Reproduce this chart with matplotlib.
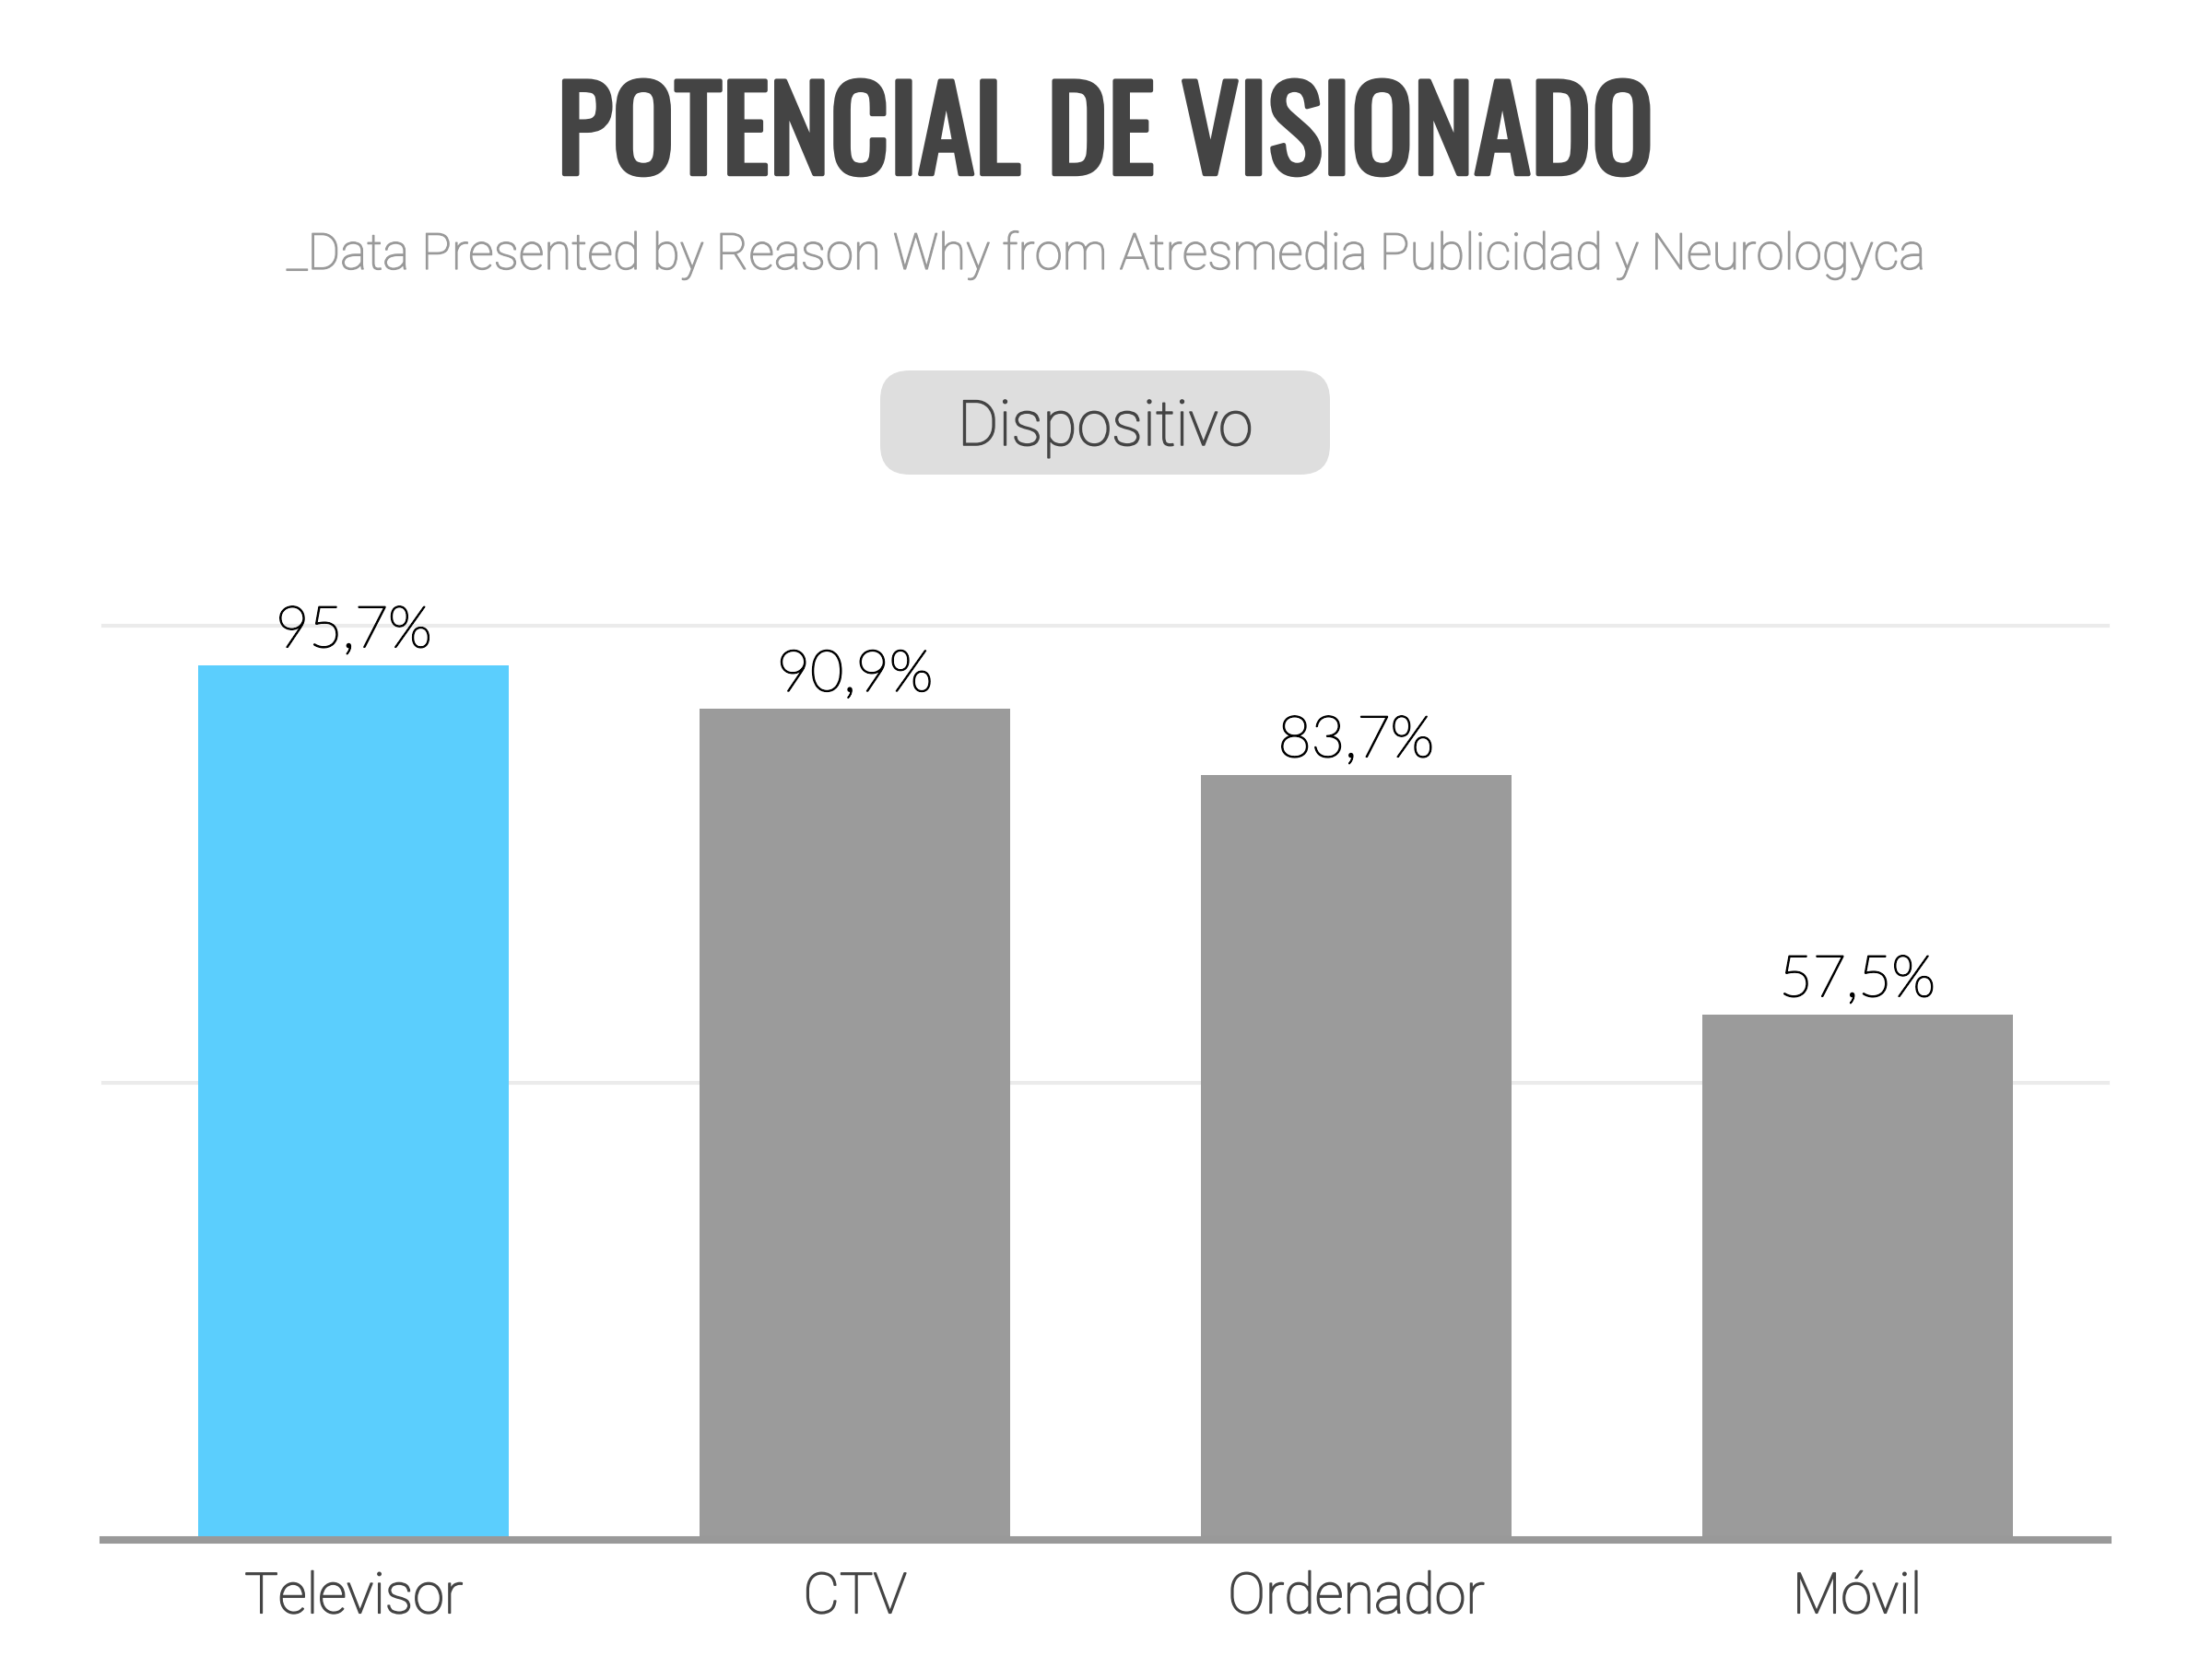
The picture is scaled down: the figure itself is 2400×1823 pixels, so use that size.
import matplotlib
matplotlib.use("Agg")
import matplotlib.pyplot as plt
from matplotlib import font_manager as fm
from matplotlib.patches import FancyBboxPatch
from matplotlib.transforms import IdentityTransform
import matplotlib.patheffects as pe

# ---- data ----
categories = ["Televisor", "CTV", "Ordenador", "Móvil"]
values = [95.7, 90.9, 83.7, 57.5]
value_labels = ["95,7%", "90,9%", "83,7%", "57,5%"]
bar_colors = ["#5BCEFD", "#9B9B9B", "#9B9B9B", "#9B9B9B"]
grid_values = [50, 100]
title = "POTENCIAL DE VISIONADO"
subtitle = "_Data Presented by Reason Why from Atresmedia Publicidad y Neurologyca"
box_label = "Dispositivo"

names = {f.name for f in fm.fontManager.ttflist}
def pick(*c):
    for n in c:
        if n in names:
            return n
    return "DejaVu Sans"

title_font = pick("Oswald", "Liberation Sans Narrow", "DejaVu Sans")
lato = pick("Lato", "Open Sans", "DejaVu Sans")
roboto = pick("Roboto", "Open Sans", "DejaVu Sans")

def thicken(txt, color, lw):
    txt.set_path_effects([pe.withStroke(linewidth=lw, foreground=color)])

W, H = 2400, 1824
fig = plt.figure(figsize=(W / 100, H / 100), dpi=100)
fig.patch.set_facecolor("white")

# axes: x 112..2287 px, y zero at 1672 px, 100 at 680 px (from top)
ax = fig.add_axes([112 / W, 1 - 1672 / H, (2287 - 112) / W, (1672 - 680) / H])
x = list(range(len(categories)))
ax.bar(x, values, width=0.62, color=bar_colors, zorder=2)
ax.set_xlim(-0.5, len(categories) - 0.5)
ax.set_ylim(0, 100)
for g in grid_values:
    ax.axhline(g, color="#EBEBEB", lw=2.9, zorder=1, clip_on=False)
ax.axhline(0, color="#999999", lw=5.8, zorder=3, clip_on=False)
for s in ax.spines.values():
    s.set_visible(False)
ax.set_yticks([])
ax.set_xticks(x)
ax.set_xticklabels(categories, fontsize=44, color="#444444",
                   family=[roboto, "DejaVu Sans"], fontweight="light")
for lbl in ax.get_xticklabels():
    thicken(lbl, "#444444", 1.1)
ax.tick_params(axis="x", length=0, pad=24)
for xi, v, lab in zip(x, values, value_labels):
    a = ax.annotate(lab, (xi, v), xytext=(0, 14), textcoords="offset points",
                    ha="center", va="baseline", fontsize=45, color="#000000",
                    family=[lato, "DejaVu Sans"], fontweight="light",
                    annotation_clip=False)
    thicken(a, "#000000", 1.2)

# title
t = fig.text(1199 / W, 1 - 190 / H, title, ha="center", va="baseline",
             fontsize=90, color="#444444", fontweight="bold",
             family=[title_font, "DejaVu Sans"])
thicken(t, "#444444", 3.2)
st = fig.text(1199 / W, 1 - 293 / H, subtitle, ha="center", va="baseline",
              fontsize=39, color="#999999", fontweight="light",
              family=[roboto, "DejaVu Sans"])
thicken(st, "#999999", 0.9)

# rounded box
box = FancyBboxPatch((955, H - 516), 488, 113,
                     boxstyle="round,pad=0,rounding_size=32",
                     facecolor="#DEDEDE", edgecolor="none",
                     transform=IdentityTransform())
fig.add_artist(box)
bt = fig.text(1199 / W, 1 - 484 / H, box_label, ha="center", va="baseline",
              fontsize=49, color="#444444", fontweight="light",
              family=[roboto, "DejaVu Sans"])
thicken(bt, "#444444", 1.1)

# fit title / subtitle widths to the reference
fig.canvas.draw()
r = fig.canvas.get_renderer()
for txt, target in ((t, 1190), (st, 1776)):
    w = txt.get_window_extent(r).width
    txt.set_fontsize(txt.get_fontsize() * target / w)

fig.savefig("out.png", dpi=100, facecolor="white")
